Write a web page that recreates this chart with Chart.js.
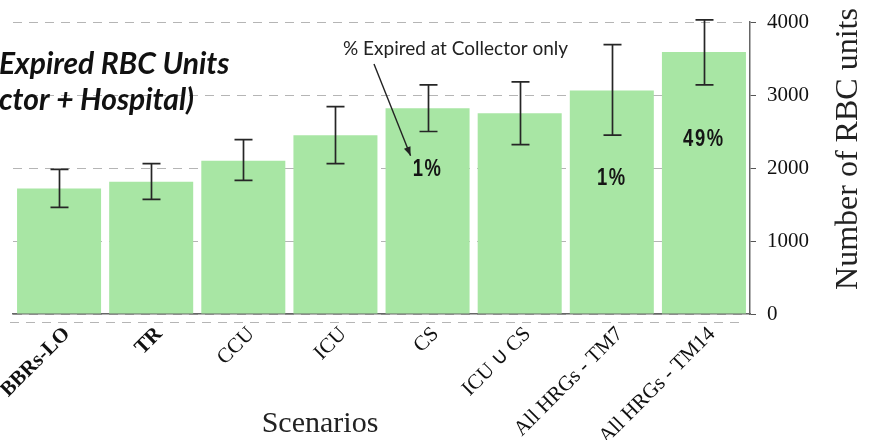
<!DOCTYPE html>
<html>
<head>
<meta charset="utf-8">
<script src="https://cdn.jsdelivr.net/npm/chart.js@4.4.1/dist/chart.umd.min.js"></script>
<style>
  html, body { margin: 0; padding: 0; background: #fff; }
  #wrap { width: 869px; height: 440px; position: relative; }
</style>
</head>
<body>
<div id="wrap"><canvas id="c" width="869" height="440"></canvas></div>
<script>
// Scenarios compared, mean expired RBC units with their error range
const scenarios = ['BBRs-LO', 'TR', 'CCU', 'ICU', 'CS', 'ICU \u222A CS', 'All HRGs - TM7', 'All HRGs - TM14'];
const expiredUnits = [1720, 1810, 2100, 2450, 2820, 2750, 3060, 3590];
const errLow  = [1460, 1570, 1830, 2060, 2500, 2320, 2450, 3140];
const errHigh = [1980, 2060, 2390, 2840, 3140, 3180, 3690, 4030];
// share of units that expired at the collector
const collectorShare = ['', '', '', '', '1%', '', '1%', '49%'];
const yTicks = [0, 1000, 2000, 3000, 4000];

const SERIF = '"Liberation Serif", "Times New Roman", serif';
const GRID = 'rgba(90,90,90,0.45)';

const overlay = {
  id: 'overlay',
  afterDraw(chart) {
    const { ctx, chartArea: area } = chart;
    const xs = chart.scales.x, ys = chart.scales.y;

    // dashed rule just below the category axis
    ctx.save();
    ctx.strokeStyle = GRID;
    ctx.lineWidth = 1;
    ctx.setLineDash([9, 7]);
    ctx.beginPath();
    ctx.moveTo(area.left - 3, area.bottom + 8.5);
    ctx.lineTo(area.right - 6, area.bottom + 8.5);
    ctx.stroke();
    ctx.restore();

    // error bars
    ctx.save();
    ctx.strokeStyle = '#262626';
    ctx.lineWidth = 1.7;
    expiredUnits.forEach((_, i) => {
      const x = Math.round(xs.getPixelForValue(i)) + 0.5;
      const yh = ys.getPixelForValue(errHigh[i]);
      const yl = ys.getPixelForValue(errLow[i]);
      ctx.beginPath();
      ctx.moveTo(x, yh); ctx.lineTo(x, yl);
      ctx.moveTo(x - 9, yh); ctx.lineTo(x + 9, yh);
      ctx.moveTo(x - 9, yl); ctx.lineTo(x + 9, yl);
      ctx.stroke();
    });
    ctx.restore();

    // collector share labels inside the bars (value level of each label), condensed lettering
    const shareLevel = { 4: 1975, 6: 1860, 7: 2385 };
    collectorShare.forEach((t, i) => {
      if (!t) return;
      ctx.save();
      ctx.translate(xs.getPixelForValue(i), ys.getPixelForValue(shareLevel[i]));
      ctx.scale(0.8, 1);
      ctx.fillStyle = '#151515';
      ctx.font = 'bold 23px "Liberation Sans", Arial, sans-serif';
      ctx.textAlign = 'center';
      ctx.textBaseline = 'middle';
      if ('letterSpacing' in ctx) ctx.letterSpacing = '2px';
      ctx.fillText(t, 0, 0);
      ctx.restore();
    });

    // annotation with arrow pointing at the CS label
    ctx.save();
    ctx.fillStyle = '#222';
    ctx.font = '19px Lato, "Open Sans", sans-serif';
    ctx.textAlign = 'left';
    ctx.textBaseline = 'alphabetic';
    ctx.fillText('% Expired at Collector only', 343, 55);
    const ax = 374, ay = 64;
    const bx = xs.getPixelForValue(4) - 17, by = ys.getPixelForValue(shareLevel[4]) - 14;
    ctx.strokeStyle = '#222';
    ctx.lineWidth = 1.4;
    ctx.beginPath(); ctx.moveTo(ax, ay); ctx.lineTo(bx, by); ctx.stroke();
    const ang = Math.atan2(by - ay, bx - ax);
    ctx.beginPath();
    ctx.moveTo(bx, by);
    ctx.lineTo(bx - 9 * Math.cos(ang) + 3.5 * Math.sin(ang), by - 9 * Math.sin(ang) - 3.5 * Math.cos(ang));
    ctx.lineTo(bx - 9 * Math.cos(ang) - 3.5 * Math.sin(ang), by - 9 * Math.sin(ang) + 3.5 * Math.cos(ang));
    ctx.closePath(); ctx.fill();
    ctx.restore();

    // heading
    ctx.save();
    ctx.fillStyle = '#111';
    ctx.font = 'italic bold 30px Lato, "Open Sans", sans-serif';
    ctx.textAlign = 'left';
    ctx.textBaseline = 'alphabetic';
    ctx.fillText('Expired RBC Units', -1, 74);
    ctx.fillText('ctor + Hospital)', -1, 110);
    ctx.restore();

    // axis titles
    ctx.save();
    ctx.fillStyle = '#222';
    ctx.font = '30px ' + SERIF;
    ctx.textAlign = 'center';
    ctx.textBaseline = 'alphabetic';
    ctx.fillText('Scenarios', 320, 432);
    ctx.translate(857, 149);
    ctx.rotate(-Math.PI / 2);
    ctx.font = '32px ' + SERIF;
    ctx.fillText('Number of RBC units', 0, 0);
    ctx.restore();
  }
};

new Chart(document.getElementById('c'), {
  type: 'bar',
  data: {
    labels: scenarios,
    datasets: [{
      data: expiredUnits,
      backgroundColor: '#a8e6a4',
      borderWidth: 0,
      barPercentage: 0.912,
      categoryPercentage: 1
    }]
  },
  options: {
    responsive: false,
    animation: false,
    devicePixelRatio: 1,
    layout: { padding: { left: 13, top: 22, right: 0, bottom: 0 } },
    plugins: { legend: { display: false }, tooltip: { enabled: false }, title: { display: false } },
    scales: {
      x: {
        offset: true,
        z: 1,
        grid: { display: false, drawTicks: false },
        border: { display: true, color: '#666', width: 1.5 },
        ticks: {
          autoSkip: false,
          minRotation: 45,
          maxRotation: 45,
          padding: 8,
          labelOffset: 8,
          color: '#111',
          font: (c) => ({ family: SERIF, size: 21, weight: c.index < 2 ? 'bold' : 'normal' })
        },
        afterFit(s) { s.height = 126; s.paddingLeft = 0; s.paddingRight = 0; }
      },
      y: {
        position: 'right',
        min: 0,
        max: 4000,
        z: 1,
        afterBuildTicks(s) { s.ticks = yTicks.map(v => ({ value: v })); },
        grid: { color: GRID, lineWidth: 1, tickColor: '#555', tickLength: 6, tickWidth: 1, tickBorderDash: [] },
        border: { display: true, color: '#666', width: 1.5, dash: [9, 7] },
        ticks: {
          padding: 11,
          color: '#111',
          font: { family: SERIF, size: 21 },
          callback: (v) => String(v)
        },
        afterFit(s) { s.width = 869 - 750; s.paddingTop = 0; s.paddingBottom = 0; }
      }
    }
  },
  plugins: [overlay]
});
</script>
</body>
</html>
